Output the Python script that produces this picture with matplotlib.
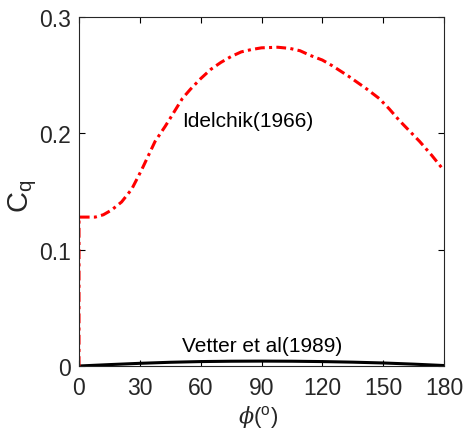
import matplotlib
matplotlib.use("Agg")
import matplotlib.pyplot as plt

# Idelchik (1966) curve
idel_x = [0, 0, 5, 8, 12, 16, 21, 26, 31, 37.5, 42.5, 45, 51, 55, 60, 65, 70, 75,
          80, 85, 90, 98, 104, 109, 114, 120, 125, 133, 142, 148, 153, 158, 163,
          168, 174, 180]
idel_y = [0, 0.128, 0.128, 0.128, 0.130, 0.134, 0.141, 0.152, 0.169, 0.193, 0.206,
          0.213, 0.230, 0.238, 0.247, 0.255, 0.261, 0.266, 0.270, 0.272, 0.2735,
          0.274, 0.273, 0.271, 0.267, 0.263, 0.258, 0.249, 0.238, 0.230, 0.221,
          0.211, 0.202, 0.193, 0.181, 0.168]

# Vetter et al (1989) curve
vet_x = [0, 15, 30, 45, 60, 75, 90, 105, 120, 135, 150, 165, 180]
vet_y = [0, 0.0012, 0.0023, 0.0032, 0.0038, 0.0041, 0.0042, 0.0041, 0.0038, 0.0033, 0.0026, 0.0016, 0.0004]

xticks = [0, 30, 60, 90, 120, 150, 180]
yticks = [0, 0.1, 0.2, 0.3]
ytick_labels = ["0", "0.1", "0.2", "0.3"]

plt.rcParams["font.family"] = ["Liberation Sans", "DejaVu Sans"]
plt.rcParams["mathtext.fontset"] = "custom"
plt.rcParams["mathtext.rm"] = "Liberation Sans"
plt.rcParams["mathtext.sf"] = "Liberation Sans"
plt.rcParams["mathtext.it"] = "DejaVu Serif:italic"

fig = plt.figure(figsize=(4.64, 4.35), dpi=100)
ax = fig.add_axes([79 / 464, 1 - 367 / 435, 365 / 464, 349 / 435])

ax.plot(vet_x, vet_y, color="black", lw=2.2, solid_capstyle="butt")
ax.plot(idel_x, idel_y, color="#ff0000", lw=2.2, dashes=(3.2, 1.4, 1, 1.4))

ax.set_xlim(0, 180)
ax.set_ylim(0, 0.3)
ax.set_xticks(xticks)
ax.set_yticks(yticks)
ax.set_yticklabels(ytick_labels)
ax.tick_params(direction="in", top=True, right=True, length=4, width=0.8,
               labelsize=16.5, labelcolor="#262626")
ax.tick_params(axis="x", pad=7.5)
ax.tick_params(axis="y", pad=5.5)
for s in ax.spines.values():
    s.set_linewidth(0.8)
    s.set_color("#262626")

ax.text(50.8, 0.2064, "Idelchik(1966)", fontsize=15, va="baseline", ha="left")
ax.text(51.0, 0.0129, "Vetter et al(1989)", fontsize=15, va="baseline", ha="left")

ax.set_ylabel(r"C$_\mathrm{q}$", fontsize=21, color="#262626")
ax.yaxis.set_label_coords(-0.11, 0.49)
ax.set_xlabel(r"$\phi$($^\mathrm{o}$)", fontsize=16, color="#262626")
ax.xaxis.set_label_coords(0.49, -0.108)

fig.savefig("out.png", dpi=100)
